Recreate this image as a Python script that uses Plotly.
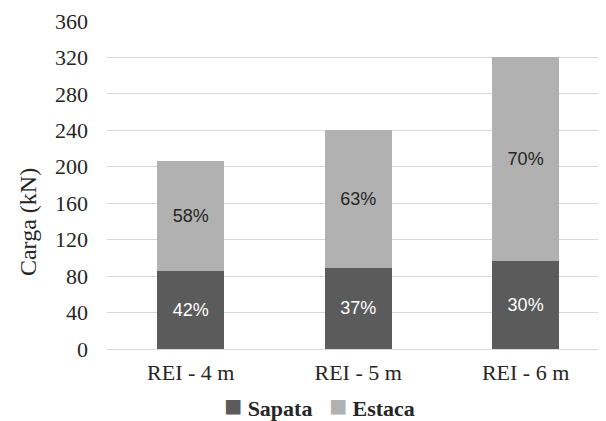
import plotly.graph_objects as go

categories = ["REI - 4 m", "REI - 5 m", "REI - 6 m"]
sapata = [86, 89, 97]
estaca = [120, 151, 223]
sapata_labels = ["42%", "37%", "30%"]
estaca_labels = ["58%", "63%", "70%"]
y_ticks = [0, 40, 80, 120, 160, 200, 240, 280, 320, 360]
series_names = ["Sapata", "Estaca"]
series_colors = ["#5b5b5b", "#b1b1b1"]
y_title = "Carga (kN)"

serif = "Liberation Serif"
sans = "Liberation Sans"

fig = go.Figure()
fig.add_trace(go.Bar(
    x=categories, y=sapata, name=series_names[0], width=0.4,
    marker=dict(color=series_colors[0], line=dict(width=0)),
    text=sapata_labels, textposition="inside", insidetextanchor="middle",
    textfont=dict(family=sans, size=18, color="#ffffff"),
    hoverinfo="skip",
))
fig.add_trace(go.Bar(
    x=categories, y=estaca, name=series_names[1], width=0.4,
    marker=dict(color=series_colors[1], line=dict(width=0)),
    text=estaca_labels, textposition="inside", insidetextanchor="middle",
    textfont=dict(family=sans, size=18, color="#262626"),
    hoverinfo="skip",
))

legend_text = (
    f'<span style="font-size:30px;color:{series_colors[0]}">■</span> <b>{series_names[0]}</b>'
    f'   <span style="font-size:30px;color:{series_colors[1]}">■</span> <b>{series_names[1]}</b>'
)
fig.add_annotation(
    text=legend_text, xref="paper", yref="paper", x=0.426, y=-0.172,
    xanchor="center", yanchor="middle", showarrow=False,
    font=dict(family=serif, size=22, color="#262626"),
)
fig.add_annotation(
    text=y_title, xref="paper", yref="paper", x=-0.157, y=0.386,
    xanchor="center", yanchor="middle", showarrow=False, textangle=-90,
    font=dict(family=serif, size=24, color="#262626"),
)

fig.update_layout(
    barmode="stack",
    width=598, height=413,
    margin=dict(l=99, r=0, t=13, b=72),
    paper_bgcolor="white", plot_bgcolor="white",
    font=dict(family=serif, size=22, color="#262626"),
    uniformtext=dict(minsize=18, mode="show"),
    showlegend=False,
    xaxis=dict(
        range=[-0.5, 2.48], showgrid=False, showline=False, zeroline=False,
        ticks="", ticklabelstandoff=8,
        tickfont=dict(family=serif, size=22, color="#262626"),
    ),
    yaxis=dict(
        range=[0, 360], tickvals=y_ticks, showgrid=True, gridcolor="#d9d9d9",
        gridwidth=1, zeroline=True, zerolinecolor="#d9d9d9", zerolinewidth=1,
        showline=False, ticks="", ticklabelstandoff=18,
        tickfont=dict(family=serif, size=22, color="#262626"),
    ),
)

fig.write_html("out.html")
